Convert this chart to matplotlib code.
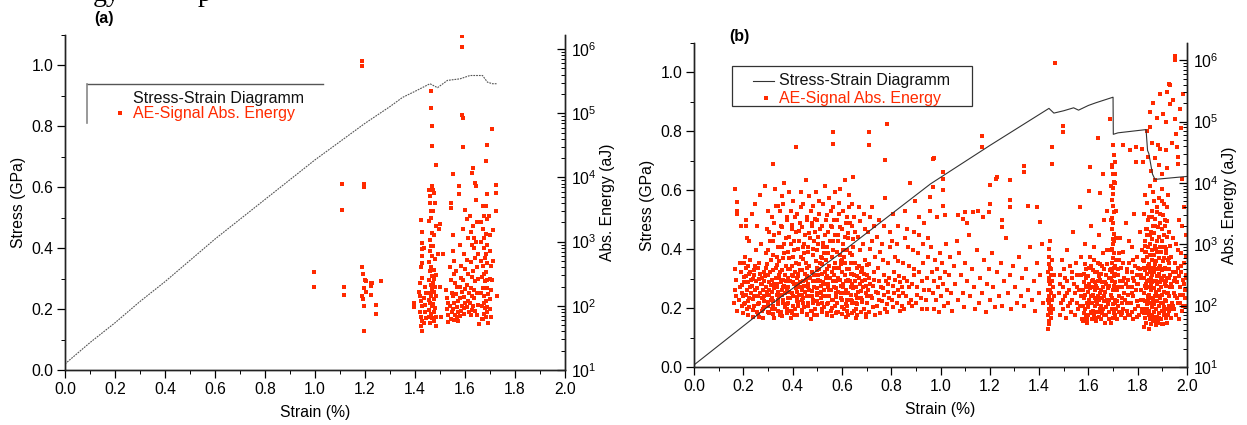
import numpy as np
import matplotlib
matplotlib.use("Agg")
import matplotlib.pyplot as plt
from matplotlib.ticker import MultipleLocator, FormatStrFormatter, LogLocator, LogFormatterMathtext, NullFormatter
from matplotlib.patches import Rectangle

plt.rcParams['font.family'] = ['Liberation Sans', 'DejaVu Sans']
plt.rcParams['mathtext.fontset'] = 'custom'
plt.rcParams['mathtext.rm'] = 'Liberation Sans'
plt.rcParams['mathtext.it'] = 'Liberation Sans:italic'
plt.rcParams['mathtext.bf'] = 'Liberation Sans:bold'
plt.rcParams['mathtext.default'] = 'regular'

# ---------------- data ----------------
# panel (a): stress-strain curve
a_line_strain = [0, 0.1, 0.2, 0.3, 0.4, 0.5, 0.6, 0.7, 0.8, 0.9, 1.0, 1.1, 1.2, 1.3, 1.35,
                 1.4, 1.46, 1.49, 1.53, 1.58, 1.62, 1.67, 1.69, 1.71, 1.73]
a_line_stress = [0.02, 0.09, 0.155, 0.225, 0.29, 0.36, 0.43, 0.495, 0.56, 0.625, 0.69, 0.75,
                 0.81, 0.865, 0.895, 0.915, 0.94, 0.927, 0.951, 0.956, 0.967, 0.967, 0.945, 0.94, 0.94]

# panel (b): stress-strain curve
b_line_strain = [0, 0.3, 0.6, 0.96, 1.2, 1.44, 1.46, 1.50, 1.54, 1.56, 1.60, 1.63, 1.70, 1.701,
                 1.72, 1.834, 1.836, 1.84, 1.845, 1.86, 1.87, 2.0]
b_line_stress = [0.007, 0.205, 0.39, 0.622, 0.752, 0.878, 0.862, 0.87, 0.88, 0.872, 0.888, 0.897,
                 0.916, 0.79, 0.795, 0.806, 0.781, 0.735, 0.725, 0.655, 0.637, 0.647]

# AE events: pairs "strain log10(energy/aJ)"
a_ae_points = """
1.189 5.82, 1.189 5.73, 1.109 3.90, 1.195 3.90, 1.195 3.85, 1.109 3.50, 0.997 2.52, 0.997 2.30,
1.117 2.29, 1.117 2.17, 1.189 2.60, 1.190 2.49, 1.200 2.40, 1.205 2.38, 1.223 2.35, 1.226 2.35,
1.223 2.31, 1.264 2.38, 1.204 2.21, 1.189 2.15, 1.190 2.10, 1.196 2.28, 1.225 2.17, 1.196 1.99,
1.243 2.02, 1.243 1.87, 1.195 1.60,
1.589 6.21, 1.589 6.04, 1.464 5.34, 1.464 5.08, 1.467 4.80, 1.467 4.49, 1.483 4.20, 1.589 4.98,
1.593 4.93, 1.593 4.47, 1.709 4.75, 1.687 4.51, 1.683 4.26, 1.633 4.15, 1.629 4.07, 1.551 4.06,
1.724 3.89, 1.724 3.76, 1.576 3.86, 1.576 3.74, 1.640 3.91, 1.643 3.86, 1.689 3.75, 1.467 3.86,
1.471 3.81, 1.724 3.47, 1.544 3.60, 1.544 3.52, 1.600 3.50,
1.396 2.04, 1.396 1.98,
1.424 3.33, 1.427 3.15, 1.429 2.98, 1.429 2.88, 1.429 2.78, 1.427 2.67, 1.424 2.60, 1.427 2.43,
1.420 2.35, 1.417 2.22, 1.420 2.15, 1.424 2.07, 1.427 1.99, 1.420 1.90, 1.424 1.83, 1.427 1.76,
1.424 1.68, 1.427 1.60,
1.437 2.90, 1.440 2.30, 1.444 2.20, 1.436 2.12, 1.441 2.02, 1.439 1.91, 1.444 1.81, 1.437 1.73,
1.457 3.81, 1.461 3.71, 1.460 3.60, 1.465 3.47, 1.463 3.37, 1.457 3.32, 1.467 3.14, 1.460 3.03,
1.464 2.93, 1.460 2.85, 1.468 2.77, 1.457 2.69, 1.465 2.61, 1.460 2.54, 1.468 2.46, 1.456 2.40,
1.463 2.33, 1.468 2.26, 1.459 2.20, 1.465 2.15, 1.455 2.09, 1.461 2.04, 1.469 1.99, 1.457 1.93,
1.464 1.88, 1.455 1.82, 1.468 1.81, 1.460 1.74,
1.476 3.76, 1.480 3.60, 1.473 3.47, 1.483 3.24, 1.477 3.11, 1.473 2.93, 1.481 2.73, 1.475 2.56,
1.484 2.48, 1.477 2.42, 1.472 2.35, 1.481 2.29, 1.475 2.22, 1.484 2.16, 1.477 2.10, 1.472 2.03,
1.481 1.96, 1.475 1.91, 1.483 1.83, 1.477 1.77, 1.483 1.69,
1.500 3.27, 1.497 3.19, 1.500 2.30, 1.503 1.83, 1.493 2.80, 1.511 2.80,
1.525 2.25, 1.528 2.12, 1.532 2.05, 1.526 1.95, 1.530 1.85, 1.533 1.75,
1.540 2.60, 1.543 2.40, 1.546 2.20, 1.541 2.00, 1.548 1.90, 1.545 1.80,
1.550 3.10, 1.552 2.85, 1.556 2.70, 1.554 2.50, 1.558 2.35, 1.553 2.15, 1.557 2.05, 1.551 1.95,
1.559 1.86, 1.555 1.78,
1.565 2.55, 1.568 2.30, 1.563 2.18, 1.570 2.08, 1.566 1.98, 1.572 1.90, 1.567 1.82, 1.570 1.76,
1.578 2.95, 1.582 2.62, 1.585 2.44, 1.579 2.30, 1.586 2.22, 1.581 2.12, 1.588 2.00, 1.583 1.92,
1.580 1.84,
1.592 3.20, 1.595 2.80, 1.598 2.58, 1.593 2.40, 1.600 2.26, 1.596 2.14, 1.601 2.04, 1.597 1.96,
1.594 1.88,
1.606 3.35, 1.610 3.05, 1.608 2.72, 1.613 2.50, 1.607 2.33, 1.615 2.20, 1.611 2.08, 1.609 1.98,
1.614 1.90,
1.620 3.40, 1.623 3.15, 1.626 2.95, 1.622 2.68, 1.628 2.45, 1.624 2.28, 1.629 2.15, 1.621 2.05,
1.627 1.93, 1.625 1.85,
1.633 3.25, 1.636 3.05, 1.634 2.90, 1.638 2.75, 1.632 2.55, 1.639 2.38, 1.635 2.25, 1.637 2.12,
1.633 2.00, 1.640 1.92,
1.645 3.65, 1.648 3.30, 1.644 3.00, 1.650 2.80, 1.646 2.60, 1.651 2.42, 1.647 2.20, 1.652 2.02,
1.649 1.85, 1.655 1.72,
1.662 3.30, 1.665 3.00, 1.663 2.70, 1.667 2.45, 1.664 2.20, 1.668 2.00, 1.666 1.80,
1.672 3.55, 1.675 3.40, 1.673 3.20, 1.677 3.05, 1.674 2.90, 1.678 2.75, 1.672 2.62, 1.676 2.50,
1.679 2.38, 1.673 2.27, 1.677 2.15, 1.674 2.05, 1.678 1.96, 1.675 1.88, 1.672 1.80,
1.684 3.55, 1.687 3.35, 1.683 3.12, 1.688 2.95, 1.685 2.80, 1.689 2.66, 1.684 2.52, 1.688 2.40,
1.686 2.28, 1.690 2.18, 1.685 2.08, 1.689 1.98, 1.687 1.90, 1.684 1.82, 1.690 1.73,
1.697 3.40, 1.700 3.10, 1.698 2.85, 1.702 2.62, 1.699 2.42, 1.703 2.25, 1.700 2.10, 1.701 1.95,
1.704 1.82, 1.710 3.18, 1.712 2.70, 1.708 2.40, 1.727 2.15
"""

b_ae_points = """
0.164 2.05, 0.167 2.25, 0.171 2.42, 0.168 2.60, 0.173 3.55, 0.166 3.90, 0.175 1.92, 0.170 2.15,
0.173 3.69, 0.173 3.50, 0.211 3.40, 0.211 3.29,
0.184 2.10, 0.188 2.30, 0.192 2.55, 0.186 2.70, 0.195 2.00, 0.190 3.30, 0.193 2.20,
0.203 2.38, 0.207 2.05, 0.212 2.62, 0.209 2.18, 0.214 1.95, 0.205 2.80, 0.211 2.48, 0.216 3.10,
0.222 2.12, 0.226 2.30, 0.229 2.55, 0.224 1.98, 0.233 2.42, 0.228 2.75, 0.236 3.50, 0.231 2.20, 0.225 3.05,
0.242 2.00, 0.246 2.25, 0.251 2.40, 0.248 2.65, 0.254 1.90, 0.244 2.15, 0.252 2.90, 0.257 3.30, 0.249 3.65, 0.245 2.50,
0.262 2.05, 0.266 2.20, 0.271 2.35, 0.268 2.52, 0.274 1.92, 0.264 2.70, 0.272 3.00, 0.277 2.12, 0.269 3.80, 0.275 2.45, 0.263 1.82,
0.282 2.15, 0.286 1.98, 0.291 2.30, 0.288 2.48, 0.294 2.62, 0.284 2.08, 0.292 2.85, 0.297 3.25, 0.289 3.95, 0.295 2.22, 0.283 2.40,
0.302 2.00, 0.306 2.18, 0.311 2.33, 0.308 2.55, 0.314 2.10, 0.304 1.88, 0.312 2.75, 0.317 3.45, 0.309 3.05, 0.315 2.42, 0.303 2.25, 0.318 1.95, 0.319 4.31,
0.322 2.08, 0.326 2.28, 0.331 2.45, 0.328 1.95, 0.334 2.62, 0.324 3.15, 0.332 3.62, 0.337 2.18, 0.329 3.90, 0.335 2.35, 0.323 1.80, 0.338 2.80,
0.342 2.02, 0.346 2.15, 0.351 2.38, 0.348 2.55, 0.354 1.90, 0.344 2.72, 0.352 3.30, 0.357 2.25, 0.349 3.55, 0.355 2.95, 0.343 2.45, 0.358 3.78, 0.347 1.85,
0.362 2.10, 0.366 2.32, 0.371 2.50, 0.368 1.98, 0.374 2.65, 0.364 2.85, 0.372 3.10, 0.377 3.40, 0.369 2.20, 0.375 2.40, 0.363 3.65, 0.378 1.88, 0.367 4.00,
0.382 2.05, 0.386 2.22, 0.391 2.40, 0.388 2.60, 0.394 1.92, 0.384 2.78, 0.392 3.00, 0.397 3.25, 0.389 2.12, 0.395 3.55, 0.383 2.30, 0.398 2.50, 0.387 3.85, 0.393 1.80,
0.402 2.15, 0.406 2.35, 0.411 1.95, 0.408 2.55, 0.414 2.70, 0.404 2.90, 0.412 3.20, 0.417 2.08, 0.409 3.45, 0.415 2.28, 0.403 3.70, 0.418 2.45, 0.407 1.85, 0.414 4.59,
0.422 2.00, 0.426 2.18, 0.431 2.38, 0.428 2.58, 0.434 2.80, 0.424 3.05, 0.432 3.35, 0.437 2.10, 0.429 2.30, 0.435 3.60, 0.423 2.48, 0.438 1.90, 0.427 2.68, 0.433 3.85,
0.442 2.12, 0.446 2.32, 0.451 2.52, 0.448 1.98, 0.454 2.70, 0.444 2.95, 0.452 3.15, 0.457 3.40, 0.449 2.22, 0.455 2.42, 0.443 3.65, 0.458 1.85, 0.447 2.85, 0.453 4.05,
0.462 2.05, 0.466 2.25, 0.471 2.45, 0.468 2.65, 0.474 1.92, 0.464 2.88, 0.472 3.10, 0.477 3.30, 0.469 2.15, 0.475 3.55, 0.463 2.35, 0.478 2.55, 0.467 3.78, 0.473 1.78,
0.482 2.10, 0.486 2.30, 0.491 1.95, 0.488 2.50, 0.494 2.72, 0.484 2.92, 0.492 3.20, 0.497 2.20, 0.489 3.42, 0.495 2.40, 0.483 3.62, 0.498 2.62, 0.487 1.85, 0.493 3.85,
0.502 2.02, 0.506 2.20, 0.511 2.40, 0.508 2.60, 0.514 2.80, 0.504 3.00, 0.512 3.25, 0.517 2.12, 0.509 3.50, 0.515 2.32, 0.503 2.50, 0.518 1.90, 0.507 3.70, 0.513 2.70,
0.522 2.15, 0.526 2.35, 0.531 2.55, 0.528 1.98, 0.534 2.75, 0.524 2.95, 0.532 3.15, 0.537 3.40, 0.529 2.25, 0.535 2.45, 0.523 3.65, 0.538 1.85, 0.527 2.85, 0.533 3.95,
0.542 2.05, 0.546 2.25, 0.551 2.45, 0.548 2.65, 0.554 1.92, 0.544 2.85, 0.552 3.05, 0.557 3.30, 0.549 2.15, 0.555 3.55, 0.543 2.35, 0.558 2.55, 0.547 3.75, 0.563 4.83, 0.563 4.64,
0.562 2.10, 0.566 2.30, 0.571 2.00, 0.568 2.50, 0.574 2.70, 0.564 2.90, 0.572 3.15, 0.577 2.20, 0.569 3.40, 0.575 2.40, 0.563 3.60, 0.578 1.88, 0.567 2.62, 0.573 3.85,
0.582 2.05, 0.586 2.22, 0.591 2.42, 0.588 2.62, 0.594 2.82, 0.584 3.05, 0.592 3.28, 0.597 2.12, 0.589 3.50, 0.595 2.32, 0.583 1.90, 0.598 2.72, 0.587 3.68, 0.593 3.90,
0.602 2.10, 0.606 2.30, 0.611 2.50, 0.608 1.95, 0.614 2.70, 0.604 2.90, 0.612 3.12, 0.617 3.35, 0.609 2.20, 0.615 2.40, 0.603 3.55, 0.618 1.82, 0.607 2.80, 0.613 4.05,
0.622 2.00, 0.626 2.20, 0.631 2.40, 0.628 2.60, 0.634 2.85, 0.624 3.10, 0.632 3.35, 0.637 2.10, 0.629 3.60, 0.635 2.30, 0.623 1.85, 0.638 2.52, 0.627 3.80,
0.642 2.08, 0.646 2.28, 0.651 2.50, 0.648 1.92, 0.654 2.70, 0.644 2.95, 0.652 3.20, 0.657 2.18, 0.649 3.45, 0.655 2.40, 0.643 3.65, 0.658 1.80, 0.647 4.10,
0.662 2.02, 0.666 2.22, 0.671 2.45, 0.668 2.65, 0.674 2.90, 0.664 3.12, 0.672 3.38, 0.677 2.12, 0.669 3.60, 0.675 2.35, 0.663 1.85, 0.678 2.55,
0.682 2.10, 0.686 2.30, 0.691 1.95, 0.688 2.52, 0.694 2.75, 0.684 3.00, 0.692 3.25, 0.697 2.20, 0.689 3.50, 0.695 2.42, 0.683 2.62, 0.698 1.82,
0.702 2.05, 0.706 2.25, 0.711 2.45, 0.708 2.68, 0.714 2.92, 0.704 3.20, 0.712 3.45, 0.717 2.15, 0.709 1.90, 0.715 2.35, 0.711 4.61, 0.711 4.83,
0.722 2.12, 0.726 2.32, 0.731 2.55, 0.728 1.98, 0.734 2.80, 0.724 3.05, 0.732 3.30, 0.737 2.22, 0.729 2.42, 0.735 1.85, 0.723 3.60,
0.742 2.00, 0.746 2.20, 0.751 2.40, 0.748 2.62, 0.754 2.88, 0.744 3.12, 0.752 2.10, 0.757 2.30, 0.749 3.40, 0.755 1.88,
0.762 2.08, 0.766 2.28, 0.771 2.50, 0.768 2.75, 0.774 1.95, 0.764 3.00, 0.772 2.18, 0.777 2.40, 0.769 3.30, 0.775 3.75, 0.776 4.38,
0.782 2.02, 0.786 2.22, 0.791 2.45, 0.788 2.70, 0.794 2.95, 0.784 1.90, 0.792 2.12, 0.797 3.20, 0.789 2.35, 0.783 4.96,
0.802 2.10, 0.806 2.32, 0.811 2.55, 0.808 1.98, 0.814 2.80, 0.804 3.05, 0.812 2.20, 0.817 2.42, 0.809 3.50,
0.822 2.05, 0.826 2.25, 0.831 2.48, 0.828 2.72, 0.834 1.92, 0.824 3.00, 0.832 2.15, 0.837 2.38, 0.829 3.30,
0.842 2.00, 0.846 2.20, 0.851 2.45, 0.848 2.70, 0.854 3.10, 0.844 2.30, 0.852 1.95, 0.857 3.55,
0.862 2.15, 0.866 2.40, 0.871 2.65, 0.868 2.95, 0.874 2.05, 0.864 3.25, 0.872 2.30, 0.877 4.00,
0.882 2.10, 0.886 2.35, 0.891 2.60, 0.888 2.90, 0.894 3.20, 0.884 2.00, 0.892 2.50, 0.897 3.70,
0.902 2.05, 0.906 2.30, 0.911 2.55, 0.908 2.85, 0.914 3.15, 0.904 2.18, 0.912 3.45,
0.922 2.12, 0.926 2.40, 0.931 2.70, 0.928 3.00, 0.934 2.25, 0.924 1.95, 0.932 3.35,
0.942 2.10, 0.946 2.45, 0.951 2.80, 0.948 3.10, 0.954 2.25, 0.944 1.95, 0.956 3.55, 0.975 4.41,
0.960 2.95, 0.965 2.55, 0.968 2.20, 0.972 1.95, 0.975 2.40, 0.978 2.75,
0.983 2.10, 0.986 2.60, 0.990 2.30, 0.993 1.90, 0.996 2.85, 0.999 2.45,
1.004 2.15, 1.008 2.70, 1.012 2.35, 1.016 2.00, 1.020 2.55, 1.023 3.00,
1.028 2.25, 1.032 2.05, 1.036 2.50, 1.040 2.80, 1.044 2.20, 1.048 1.92,
1.055 2.65, 1.060 2.35, 1.066 3.05, 1.070 2.10, 1.076 2.85, 1.082 2.50,
1.090 2.20, 1.095 1.98, 1.100 2.70, 1.108 2.40, 1.115 3.15, 1.120 2.15,
1.128 2.60, 1.135 2.30, 1.140 1.95, 1.148 2.90, 1.155 2.05, 1.160 2.45,
1.170 2.20, 1.176 2.75, 1.183 1.90, 1.190 2.35, 1.196 2.60, 1.200 2.10,
1.208 2.85, 1.215 2.30, 1.220 1.98, 1.230 2.55, 1.236 2.15, 1.245 2.70,
1.250 2.00, 1.258 2.40, 1.265 3.10, 1.272 2.20, 1.280 2.50, 1.288 1.95,
1.295 2.65, 1.302 2.30, 1.310 2.05, 1.318 2.80, 1.325 2.15, 1.332 2.45,
1.340 2.00, 1.348 2.60, 1.355 2.25, 1.362 2.95, 1.370 2.10, 1.378 2.40,
1.385 1.92, 1.392 2.70, 1.398 2.20, 1.405 2.50, 1.410 3.00, 1.415 2.05,
0.971 4.39, 1.011 4.18, 1.011 4.07, 1.011 3.88, 0.971 3.93, 0.957 3.77, 1.011 3.63, 0.984 3.44,
1.018 3.47, 1.072 3.47, 1.092 3.42, 1.106 3.34, 1.100 3.52, 1.133 3.52, 1.153 3.55, 1.173 3.44,
1.200 3.96, 1.200 3.66, 1.198 3.52, 1.227 4.07, 1.229 4.10, 1.282 4.04, 1.282 3.72, 1.282 3.61,
1.248 3.39, 1.248 3.28, 1.340 4.27, 1.340 4.18, 1.169 4.76, 1.169 4.58, 1.356 3.62, 1.392 3.61, 1.403 3.36,
1.437 1.62, 1.440 1.75, 1.438 1.85, 1.442 1.95, 1.439 2.05, 1.441 2.15, 1.437 2.25, 1.443 2.35,
1.440 2.45, 1.438 2.55, 1.442 2.68, 1.439 2.80, 1.441 2.92, 1.444 3.05, 1.448 1.80, 1.450 2.00,
1.447 2.20, 1.452 2.40, 1.449 2.60, 1.451 2.75, 1.446 1.90, 1.453 2.10, 1.451 4.58, 1.451 4.31,
1.464 5.96, 1.455 2.30, 1.458 1.95, 1.460 2.50, 1.462 2.15,
1.480 2.20, 1.483 1.85, 1.486 2.50, 1.489 2.05, 1.492 2.75, 1.495 2.30, 1.498 1.95, 1.498 4.93,
1.498 4.83, 1.502 2.60, 1.505 2.15, 1.508 1.80, 1.512 2.40, 1.515 2.90, 1.518 2.00, 1.522 2.25,
1.525 2.65, 1.528 1.90, 1.532 2.45, 1.535 2.10, 1.538 3.20, 1.542 2.35, 1.545 1.85, 1.548 2.70,
1.552 2.05, 1.555 2.50, 1.558 1.95, 1.562 2.25, 1.565 3.60, 1.568 2.80, 1.572 2.15, 1.575 1.78,
1.578 1.75, 1.582 1.88, 1.580 2.00, 1.584 2.12, 1.579 2.25, 1.583 2.38, 1.581 2.52, 1.585 2.68,
1.586 1.95, 1.588 2.18, 1.590 2.45, 1.587 3.00, 1.589 1.82, 1.591 2.32,
1.596 1.72, 1.600 1.85, 1.598 1.98, 1.602 2.10, 1.597 2.22, 1.601 2.35, 1.599 2.48, 1.603 2.62,
1.605 2.80, 1.606 4.26, 1.604 3.87, 1.607 2.05, 1.608 2.28, 1.609 1.90, 1.610 3.30,
1.614 1.78, 1.618 1.92, 1.616 2.05, 1.620 2.18, 1.615 2.30, 1.619 2.42, 1.617 2.58, 1.621 2.75,
1.623 1.85, 1.625 2.12, 1.627 2.38, 1.624 2.95, 1.626 2.00, 1.628 2.25,
1.632 1.75, 1.636 1.90, 1.634 2.02, 1.638 2.15, 1.633 2.28, 1.637 2.40, 1.635 2.55, 1.639 2.70,
1.640 4.73, 1.641 1.82, 1.643 2.10, 1.645 2.48, 1.647 3.83, 1.644 3.15, 1.646 1.95,
1.650 1.78, 1.654 1.88, 1.652 2.00, 1.656 2.12, 1.651 2.25, 1.655 2.38, 1.653 2.52, 1.657 2.65,
1.658 2.85, 1.660 4.15, 1.659 1.95, 1.661 2.30, 1.663 3.40, 1.662 2.08,
1.668 1.72, 1.672 1.85, 1.670 1.98, 1.674 2.10, 1.669 2.22, 1.673 2.35, 1.671 2.50, 1.675 2.68,
1.677 2.90, 1.676 3.55, 1.678 2.02, 1.680 2.28, 1.682 1.90, 1.684 2.45, 1.687 5.04, 1.694 4.26,
1.692 1.72, 1.698 1.80, 1.703 1.88, 1.695 1.95, 1.701 2.02, 1.706 2.10, 1.693 2.18, 1.699 2.25,
1.704 2.32, 1.696 2.40, 1.702 2.48, 1.697 2.55, 1.705 2.62, 1.694 2.70, 1.700 2.78, 1.703 2.85,
1.696 2.92, 1.701 3.00, 1.698 3.08, 1.704 3.16, 1.695 3.25, 1.700 3.34, 1.697 3.43, 1.702 3.52,
1.699 3.62, 1.696 3.72, 1.701 3.82, 1.698 3.92, 1.703 4.02, 1.700 4.15, 1.697 4.30, 1.702 4.45,
1.699 4.62, 1.707 1.85, 1.709 2.05, 1.711 2.28, 1.708 2.52, 1.710 2.75, 1.712 1.95, 1.707 4.34,
1.707 4.15, 1.694 2.12, 1.706 2.38, 1.693 2.60, 1.705 3.05,
1.716 1.78, 1.720 2.00, 1.718 2.25, 1.722 2.50, 1.724 1.90, 1.726 2.15, 1.728 2.40, 1.725 2.75,
1.730 3.10, 1.732 1.85, 1.735 2.05, 1.738 2.30, 1.734 2.62, 1.741 4.61, 1.740 1.95, 1.743 2.20,
1.745 2.45, 1.742 2.88, 1.748 1.80, 1.750 2.10, 1.752 2.35, 1.755 2.60, 1.753 3.35, 1.758 1.92,
1.760 2.18, 1.762 2.42, 1.765 2.70, 1.768 4.53, 1.766 3.05, 1.770 1.85, 1.772 2.05, 1.775 2.30,
1.778 2.55, 1.776 2.95, 1.780 1.78, 1.782 2.15, 1.785 2.40, 1.788 2.65, 1.786 3.50, 1.790 1.95,
1.792 2.25, 1.795 4.34, 1.795 4.58, 1.796 2.50, 1.798 2.80, 1.800 2.00, 1.803 2.35, 1.806 1.85,
1.808 2.60, 1.810 3.20, 1.812 2.10, 1.815 2.45, 1.816 4.56, 1.818 1.90, 1.820 2.75, 1.822 4.34,
1.824 1.65, 1.828 1.80, 1.826 1.95, 1.830 2.08, 1.825 2.20, 1.829 2.32, 1.827 2.45, 1.831 2.58,
1.826 2.72, 1.830 2.88, 1.828 3.05, 1.832 3.25, 1.827 3.50, 1.829 3.80,
1.834 1.72, 1.838 1.88, 1.836 2.02, 1.840 2.15, 1.835 2.28, 1.839 2.40, 1.837 2.52, 1.841 2.65,
1.836 2.80, 1.840 2.95, 1.838 3.15, 1.842 3.40, 1.837 3.68, 1.836 4.85, 1.843 4.42,
1.844 1.62, 1.848 1.78, 1.846 1.92, 1.850 2.05, 1.845 2.18, 1.849 2.30, 1.847 2.42, 1.851 2.55,
1.846 2.68, 1.850 2.82, 1.848 3.00, 1.852 3.20, 1.847 3.45, 1.851 3.95, 1.850 5.15, 1.850 4.91,
1.854 1.70, 1.858 1.85, 1.856 1.98, 1.860 2.12, 1.855 2.25, 1.859 2.38, 1.857 2.50, 1.861 2.62,
1.856 2.75, 1.860 2.90, 1.858 3.08, 1.862 3.30, 1.857 3.55, 1.863 5.31, 1.861 3.85,
1.864 1.75, 1.868 1.90, 1.866 2.02, 1.870 2.15, 1.865 2.28, 1.869 2.40, 1.867 2.55, 1.871 2.68,
1.866 2.82, 1.870 2.98, 1.868 3.18, 1.872 3.42, 1.867 3.70, 1.871 4.05,
1.874 1.68, 1.878 1.82, 1.876 1.95, 1.880 2.08, 1.875 2.22, 1.879 2.35, 1.877 2.48, 1.881 2.60,
1.876 2.72, 1.880 2.88, 1.878 3.05, 1.882 3.28, 1.877 3.52, 1.881 4.61,
1.884 1.72, 1.888 1.88, 1.886 2.00, 1.890 2.12, 1.885 2.25, 1.889 2.38, 1.887 2.52, 1.891 2.65,
1.886 2.78, 1.890 2.95, 1.888 3.12, 1.892 3.35, 1.890 5.45, 1.890 4.56, 1.887 3.75,
1.894 1.78, 1.898 1.92, 1.896 2.05, 1.900 2.18, 1.895 2.30, 1.899 2.42, 1.897 2.58, 1.901 2.72,
1.896 2.88, 1.900 3.05, 1.898 3.25, 1.902 3.48, 1.904 5.12, 1.897 3.90,
1.904 1.70, 1.908 1.85, 1.906 1.98, 1.910 2.10, 1.905 2.22, 1.909 2.35, 1.907 2.48, 1.911 2.62,
1.906 2.78, 1.910 2.95, 1.908 3.15, 1.912 3.40, 1.907 3.65,
1.914 1.80, 1.918 1.95, 1.916 2.08, 1.920 2.20, 1.915 2.32, 1.919 2.45, 1.917 2.60, 1.921 2.75,
1.916 2.92, 1.920 3.12, 1.918 3.38, 1.920 5.48, 1.915 4.53, 1.922 3.80,
1.924 1.85, 1.928 2.00, 1.926 2.15, 1.930 2.30, 1.925 2.45, 1.929 2.60, 1.927 2.78, 1.931 2.98,
1.930 5.59, 1.933 5.29, 1.928 5.61,
1.935 1.80, 1.938 2.05, 1.940 2.30, 1.942 2.55, 1.937 2.80, 1.944 3.10, 1.946 1.95, 1.948 2.20,
1.950 2.45, 1.951 6.07, 1.951 6.00, 1.951 5.04, 1.952 2.70, 1.954 3.00, 1.956 1.85, 1.958 2.12,
1.960 2.38, 1.962 2.62, 1.965 4.31, 1.963 4.42, 1.960 4.58, 1.964 2.90, 1.966 3.40, 1.968 1.78,
1.970 2.05, 1.972 2.30, 1.974 2.55, 1.976 2.85, 1.978 4.07, 1.978 3.30, 1.980 1.92, 1.982 2.18,
1.984 2.42, 1.986 2.70, 1.988 3.60, 1.990 2.00, 1.992 2.25, 1.994 2.50, 1.996 2.80, 1.997 3.15,
0.199 1.88, 0.201 2.02, 0.196 2.33, 0.204 2.47, 0.198 2.15, 0.202 2.70,
0.219 1.84, 0.221 2.08, 0.217 2.26, 0.223 2.52, 0.218 2.38, 0.220 2.64,
0.239 1.93, 0.241 2.11, 0.237 2.32, 0.243 2.58, 0.240 2.44, 0.238 1.82,
0.259 1.87, 0.261 2.03, 0.257 2.28, 0.263 2.43, 0.260 2.61, 0.258 2.15,
0.279 1.95, 0.281 2.12, 0.277 2.36, 0.283 2.55, 0.280 2.25, 0.278 1.80,
0.299 1.90, 0.301 2.06, 0.297 2.18, 0.303 2.38, 0.300 2.50, 0.298 2.68,
0.319 1.86, 0.321 2.00, 0.317 2.22, 0.323 2.36, 0.320 2.58, 0.318 2.12,
0.339 1.92, 0.341 2.10, 0.337 2.30, 0.343 2.50, 0.340 2.22, 0.338 2.66,
0.359 1.83, 0.361 2.05, 0.357 2.18, 0.363 2.42, 0.360 2.30, 0.358 2.58,
0.379 1.95, 0.381 2.12, 0.377 2.27, 0.383 2.45, 0.380 2.60, 0.378 2.02,
0.399 1.88, 0.401 2.00, 0.397 2.20, 0.403 2.38, 0.400 2.48, 0.398 2.65,
0.419 1.84, 0.421 2.06, 0.417 2.22, 0.423 2.35, 0.420 2.52, 0.418 2.14,
0.439 1.93, 0.441 2.05, 0.437 2.26, 0.443 2.40, 0.440 2.58, 0.438 2.18,
0.459 1.86, 0.461 2.00, 0.457 2.15, 0.463 2.30, 0.460 2.48, 0.458 2.62,
0.479 1.91, 0.481 2.04, 0.477 2.24, 0.483 2.40, 0.480 2.55, 0.478 2.16,
0.499 1.85, 0.501 2.08, 0.497 2.28, 0.503 2.42, 0.500 2.18, 0.498 2.58,
0.519 1.94, 0.521 2.05, 0.517 2.22, 0.523 2.38, 0.520 2.52, 0.518 2.68,
0.539 1.88, 0.541 2.02, 0.537 2.16, 0.543 2.30, 0.540 2.48, 0.538 2.60,
0.559 1.83, 0.561 2.10, 0.557 2.25, 0.563 2.40, 0.560 2.55, 0.558 1.96,
0.579 1.90, 0.581 2.05, 0.577 2.28, 0.583 2.45, 0.580 2.62, 0.578 2.14,
0.599 1.86, 0.601 1.98, 0.597 2.20, 0.603 2.36, 0.600 2.55, 0.598 2.68,
0.619 1.92, 0.621 2.10, 0.617 2.25, 0.623 2.42, 0.620 2.60, 0.618 2.02,
0.639 1.88, 0.641 2.04, 0.637 2.18, 0.643 2.35, 0.640 2.52, 0.638 2.70,
0.659 1.95, 0.661 2.12, 0.657 2.30, 0.663 2.48, 0.660 2.62, 0.658 2.05,
0.679 1.90, 0.681 2.06, 0.677 2.24, 0.683 2.40, 0.680 2.58,
0.699 1.86, 0.701 2.15, 0.697 2.32, 0.703 2.50, 0.700 2.66,
0.301 2.90, 0.305 3.20, 0.299 3.55, 0.321 2.82, 0.325 3.35, 0.319 3.05,
0.341 2.95, 0.345 3.18, 0.339 3.62, 0.361 2.78, 0.365 3.00, 0.359 3.28,
0.381 2.88, 0.385 3.12, 0.379 3.45, 0.401 2.80, 0.405 3.05, 0.399 3.32,
0.421 2.92, 0.425 3.22, 0.419 3.50, 0.441 2.76, 0.445 3.00, 0.439 3.28,
0.461 2.95, 0.465 3.18, 0.459 3.45, 0.481 2.82, 0.485 3.05, 0.479 3.35,
0.501 2.90, 0.505 3.12, 0.499 3.40, 0.521 2.78, 0.525 3.02, 0.519 3.30,
0.541 2.95, 0.545 3.20, 0.539 3.48, 0.561 2.80, 0.565 3.05, 0.559 3.28,
0.581 2.88, 0.585 3.15, 0.579 3.40, 0.601 2.75, 0.605 3.00, 0.599 3.25,
0.621 2.90, 0.625 3.18, 0.619 3.45, 0.641 2.82, 0.645 3.08, 0.639 3.30,
1.593 2.05, 1.595 2.30, 1.592 2.60, 1.594 1.78, 1.611 2.15, 1.613 2.40, 1.612 1.88, 1.610 2.65,
1.629 2.08, 1.631 2.32, 1.630 1.80, 1.628 2.55, 1.648 2.20, 1.649 2.42, 1.648 1.90, 1.647 2.68,
1.665 2.15, 1.666 2.38, 1.665 1.85, 1.664 2.60, 1.683 2.10, 1.685 2.32, 1.686 2.58, 1.684 1.78,
1.690 2.45, 1.691 2.90, 1.692 3.40, 1.693 3.95, 1.709 2.65, 1.711 3.10, 1.710 3.55, 1.708 4.00,
1.717 2.08, 1.719 2.60, 1.721 2.30, 1.723 2.85, 1.737 2.12, 1.739 2.40, 1.736 1.88, 1.740 2.70,
1.757 2.05, 1.759 2.30, 1.756 2.55, 1.761 1.85, 1.777 2.20, 1.779 2.45, 1.776 1.90, 1.781 2.75,
1.797 2.08, 1.799 2.35, 1.796 1.82, 1.801 2.62, 1.813 2.25, 1.815 2.50, 1.817 1.95, 1.819 2.90,
1.823 2.10, 1.833 2.35, 1.843 2.10, 1.853 2.35, 1.863 2.10, 1.873 2.40, 1.883 2.15, 1.893 2.45,
1.903 2.05, 1.913 2.40, 1.923 2.20, 1.933 2.50,
1.825 2.62, 1.835 2.88, 1.845 2.62, 1.855 2.45, 1.865 2.62, 1.875 2.92, 1.885 2.62, 1.895 2.95,
1.905 2.60, 1.915 2.85, 1.925 2.70, 1.935 2.35,
1.827 1.88, 1.837 1.95, 1.847 1.85, 1.857 1.78, 1.867 1.82, 1.877 1.75, 1.887 1.80, 1.897 1.70,
1.907 1.92, 1.917 1.72, 1.927 1.92, 1.937 1.95,
1.829 2.98, 1.839 3.25, 1.849 3.15, 1.859 3.45, 1.869 3.30, 1.879 3.60, 1.889 3.50, 1.899 3.70,
1.909 3.30, 1.919 3.60, 1.929 3.20,
1.943 2.00, 1.947 2.40, 1.953 2.15, 1.957 2.55, 1.963 2.05, 1.967 2.48, 1.973 2.18, 1.977 2.65,
1.983 2.00, 1.987 2.35, 1.993 2.12, 1.997 2.45,
1.855 4.20, 1.870 4.40, 1.885 4.30, 1.900 4.15, 1.920 4.25, 1.940 4.65, 1.955 4.80, 1.970 5.20,
1.985 5.45, 1.975 4.90, 1.945 5.35, 1.915 5.00, 1.880 5.05, 1.860 4.65,
1.436 2.10, 1.439 2.40, 1.441 1.70, 1.443 2.62, 1.445 2.25, 1.447 2.50, 1.449 1.88,
1.485 2.35, 1.495 2.10, 1.505 2.45, 1.515 2.20, 1.525 2.05, 1.535 2.55, 1.545 2.20, 1.555 2.30,
1.565 2.00, 1.570 2.50
"""


def parse(block):
    vals = np.array(block.replace(",", " ").split(), dtype=float).reshape(-1, 2)
    return vals[:, 0], vals[:, 1]


a_ae_strain, a_ae_log10E = parse(a_ae_points)
b_ae_strain, b_ae_log10E = parse(b_ae_points)

x_ticks = [0.0, 0.2, 0.4, 0.6, 0.8, 1.0, 1.2, 1.4, 1.6, 1.8, 2.0]
legend_labels = ["Stress-Strain Diagramm", "AE-Signal Abs. Energy"]

RED = "#ff2a00"
FS = 11.3
W, H = 1247, 425

fig = plt.figure(figsize=(W / 100, H / 100), dpi=100)


def make_panel(rect, line_x, line_y, ae_x, ae_log, log_top, line_color, line_lw, line_ls, msize):
    l, t, r, b = rect
    ax = fig.add_axes([l / W, 1 - b / H, (r - l) / W, (b - t) / H])
    ax2 = ax.twinx()
    ax.set_zorder(ax2.get_zorder() + 1)
    ax.patch.set_visible(False)

    ax2.scatter(ae_x, 10 ** np.asarray(ae_log), marker='s', s=msize, c=RED, linewidths=0)
    ax2.set_yscale('log')
    ax2.set_ylim(10, 10 ** log_top)
    ax2.yaxis.set_major_locator(LogLocator(base=10, numticks=10))
    ax2.yaxis.set_minor_locator(LogLocator(base=10, subs=np.arange(2, 10), numticks=10))
    ax2.yaxis.set_major_formatter(LogFormatterMathtext())
    ax2.yaxis.set_minor_formatter(NullFormatter())
    ax2.tick_params(axis='y', which='major', direction='in', length=6, width=0.9, labelsize=FS, pad=4)
    ax2.tick_params(axis='y', which='minor', direction='in', length=3, width=0.7)
    ax2.set_ylabel("Abs. Energy (aJ)", fontsize=FS, labelpad=3)

    ax.plot(line_x, line_y, color=line_color, lw=line_lw, ls=line_ls)
    ax.set_xlim(0, 2.0)
    ax.set_ylim(0, 1.10)
    ax.set_xticks(x_ticks)
    ax.xaxis.set_major_formatter(FormatStrFormatter('%.1f'))
    ax.xaxis.set_minor_locator(MultipleLocator(0.1))
    ax.yaxis.set_major_locator(MultipleLocator(0.2))
    ax.yaxis.set_minor_locator(MultipleLocator(0.1))
    ax.yaxis.set_major_formatter(FormatStrFormatter('%.1f'))
    ax.tick_params(which='major', direction='out', length=6, width=0.9, labelsize=FS, pad=2.5)
    ax.tick_params(which='minor', direction='out', length=3, width=0.7)
    ax.set_xlabel("Strain (%)", fontsize=FS, labelpad=6)
    ax.set_ylabel("Stress (GPa)", fontsize=FS, labelpad=4)

    for a in (ax, ax2):
        a.spines['top'].set_visible(False)
        for s in ('left', 'right', 'bottom'):
            a.spines[s].set_linewidth(1.0)
            a.spines[s].set_color('#222222')
    return ax, ax2


axa, axa2 = make_panel((65, 35, 565, 370), a_line_strain, a_line_stress,
                       a_ae_strain, a_ae_log10E, 6.22, '#555555', 0.8, (0, (1.6, 0.9)), 7.5)
axb, axb2 = make_panel((694, 43, 1187, 367), b_line_strain, b_line_stress,
                       b_ae_strain, b_ae_log10E, 6.28, '#333333', 0.8, '-', 10)

# legend panel (a): open frame (top and left edges only)
axa.plot([0.044, 0.516], [0.854, 0.854], transform=axa.transAxes, color='#555555', lw=1.0, clip_on=False)
axa.plot([0.044, 0.044], [0.854, 0.737], transform=axa.transAxes, color='#888888', lw=1.2, clip_on=False)
axa.text(0.136, 0.809, legend_labels[0], transform=axa.transAxes, fontsize=11.5, color='#111111', va='center')
axa.plot([0.11], [0.767], transform=axa.transAxes, marker='s', ms=2.2, color=RED, mew=0, ls='none')
axa.text(0.136, 0.767, legend_labels[1], transform=axa.transAxes, fontsize=11.5, color=RED, va='center')

# legend panel (b): full frame
axb.add_patch(Rectangle((0.077, 0.806), 0.487, 0.123, transform=axb.transAxes,
                        facecolor='white', edgecolor='#333333', lw=0.9, zorder=5))
axb.plot([0.120, 0.162], [0.883, 0.883], transform=axb.transAxes, color='#333333', lw=0.8, zorder=6)
axb.text(0.172, 0.883, legend_labels[0], transform=axb.transAxes, fontsize=11.5, color='#111111', va='center', zorder=6)
axb.plot([0.146], [0.830], transform=axb.transAxes, marker='s', ms=2.2, color=RED, mew=0, ls='none', zorder=6)
axb.text(0.172, 0.830, legend_labels[1], transform=axb.transAxes, fontsize=11.5, color=RED, va='center', zorder=6)

# panel labels
fig.text(104 / W, 1 - 18 / H, "(a)", fontsize=11.5, fontweight='bold', ha='center', va='center')
fig.text(739 / W, 1 - 37 / H, "(b)", fontsize=11.5, fontweight='bold', ha='center', va='center')

# cropped caption fragment at the very top
fig.text(93 / W, 1 - 1 / H, "gy", fontsize=20, family=['Liberation Serif', 'DejaVu Serif'], va='baseline')
fig.text(198 / W, 1 - 1 / H, "p", fontsize=20, family=['Liberation Serif', 'DejaVu Serif'], va='baseline')

fig.savefig("out.png", dpi=100)
